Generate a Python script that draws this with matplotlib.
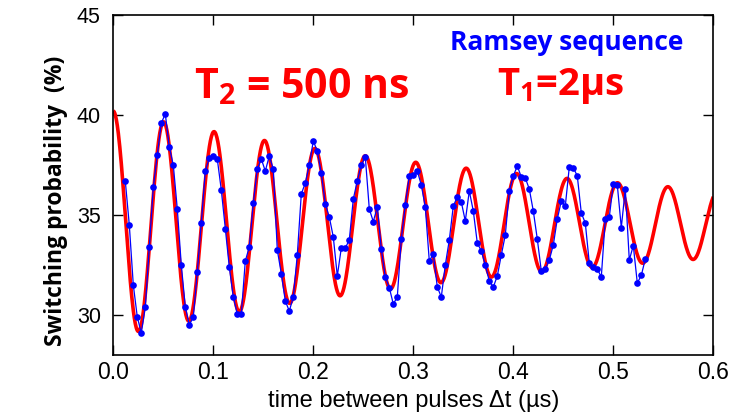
import matplotlib
matplotlib.use("Agg")
import matplotlib.pyplot as plt
import numpy as np

t_us = [0.012, 0.016, 0.020, 0.024, 0.028, 0.032, 0.036, 0.040, 0.044, 0.048,
        0.052, 0.056, 0.060, 0.064, 0.068, 0.072, 0.076, 0.080, 0.084, 0.088,
        0.092, 0.096, 0.100, 0.104, 0.108, 0.112, 0.116, 0.120, 0.124, 0.128,
        0.132, 0.136, 0.140, 0.144, 0.148, 0.152, 0.156, 0.160, 0.164, 0.168,
        0.172, 0.176, 0.180, 0.184, 0.188, 0.192, 0.196, 0.200, 0.204, 0.208,
        0.212, 0.216, 0.220, 0.224, 0.228, 0.232, 0.236, 0.240, 0.244, 0.248,
        0.252, 0.256, 0.260, 0.264, 0.268, 0.272, 0.276, 0.280, 0.284, 0.288,
        0.292, 0.296, 0.300, 0.304, 0.308, 0.312, 0.316, 0.320, 0.324, 0.328,
        0.332, 0.336, 0.340, 0.344, 0.348, 0.352, 0.356, 0.360, 0.364, 0.368,
        0.372, 0.376, 0.380, 0.384, 0.388, 0.392, 0.396, 0.400, 0.404, 0.408,
        0.412, 0.416, 0.420, 0.424, 0.428, 0.432, 0.436, 0.440, 0.444, 0.448,
        0.452, 0.456, 0.460, 0.464, 0.468, 0.472, 0.476, 0.480, 0.484, 0.488,
        0.492, 0.496, 0.500, 0.504, 0.508, 0.512, 0.516, 0.520, 0.524, 0.528,
        0.532]
p_pct = [36.69, 34.5, 31.5, 29.9, 29.1, 30.4, 33.4, 36.4, 38.0, 39.6,
         40.05, 38.4, 37.5, 35.3, 32.5, 30.4, 29.5, 29.9, 32.15, 34.6,
         37.2, 37.85, 37.97, 37.8, 36.25, 34.3, 32.4, 30.9, 30.05, 30.05,
         32.7, 33.4, 35.6, 37.3, 37.8, 37.2, 37.95, 37.3, 33.25, 32.07,
         30.7, 30.2, 30.9, 33.0, 36.05, 36.6, 37.5, 38.7, 38.2, 37.1,
         35.55, 34.9, 33.9, 31.95, 33.35, 33.35, 33.75, 35.8, 36.7, 37.5,
         37.9, 35.3, 34.67, 35.4, 33.3, 31.9, 31.37, 30.55, 30.9, 33.8,
         35.5, 36.95, 37.0, 37.2, 36.5, 35.4, 32.7, 33.05, 31.4, 30.9,
         32.5, 33.75, 35.45, 35.9, 35.65, 34.7, 36.2, 35.2, 33.6, 33.2,
         32.5, 31.7, 31.4, 31.95, 33.0, 34.0, 36.2, 36.95, 37.45, 36.9,
         36.85, 36.3, 35.2, 33.8, 32.2, 32.3, 32.75, 33.5, 34.8, 35.7,
         35.45, 37.4, 37.37, 36.95, 35.1, 34.6, 32.6, 32.4, 32.3, 31.9,
         34.8, 34.9, 36.57, 36.5, 34.37, 36.3, 32.75, 33.47, 31.6, 31.98,
         32.8]

# ---- fitted Ramsey curve parameters (T2 = 500 ns as labelled) ----
fit_offset = 34.55    # %
fit_amp = 5.65        # %
fit_T2 = 0.5          # us
fit_freq = 19.83      # MHz
t_fit_max = 0.6       # us

x_ticks = [0.0, 0.1, 0.2, 0.3, 0.4, 0.5, 0.6]
x_ticklabels = ["0.0", "0.1", "0.2", "0.3", "0.4", "0.5", "0.6"]
y_ticks = [30, 35, 40, 45]

plt.rcParams["mathtext.default"] = "regular"

fig = plt.figure(figsize=(7.41, 4.18), dpi=100)
ax = fig.add_axes([113.3 / 741, 1 - 355 / 418, (713.3 - 113.3) / 741, (355 - 15) / 418])

t_fit = np.linspace(0, t_fit_max, 1200)
y_fit = fit_offset + fit_amp * np.exp(-t_fit / fit_T2) * np.cos(2 * np.pi * fit_freq * t_fit)
ax.plot(t_fit, y_fit, color="#ff0000", lw=2.6, zorder=2, solid_capstyle="butt")
ax.plot(t_us, p_pct, color="#0000ff", lw=0.9, marker="o", ms=4.8,
        markeredgewidth=0, zorder=3)

ax.set_xlim(0, 0.6)
ax.set_ylim(28, 45)
ax.set_xticks(x_ticks)
ax.set_xticklabels(x_ticklabels)
ax.set_yticks(y_ticks)

tick_font = ["Liberation Sans", "DejaVu Sans"]
for lab in ax.get_xticklabels():
    lab.set_family(tick_font)
    lab.set_fontsize(16.5)
for lab in ax.get_yticklabels():
    lab.set_family(tick_font)
    lab.set_fontsize(15.5)
ax.tick_params(direction="in", length=7, width=1.0, top=True, right=True,
               colors="black")
ax.tick_params(axis="x", pad=4)
ax.tick_params(axis="y", pad=9)
for s in ax.spines.values():
    s.set_linewidth(1.2)
    s.set_color("black")

ax.set_xlabel("time between pulses \u0394t (\u00b5s)", family=tick_font,
              fontsize=17, labelpad=5)
ax.set_ylabel("Switching probability  (%)",
              family=["Open Sans", "DejaVu Sans"], fontweight="bold",
              fontsize=16.5)
ax.yaxis.set_label_coords(-0.0755, 0.453)

bold_font = ["Open Sans", "DejaVu Sans"]
ax.text(0.188, 40.85, "T$_2$ = 500 ns", color="#ff0000", fontsize=29.5,
        fontweight="bold", family=bold_font, ha="center", va="baseline")
ax.text(0.447, 41.0, "T$_1$=2\u00b5s", color="#ff0000", fontsize=27.5,
        fontweight="bold", family=bold_font, ha="center", va="baseline")
ax.text(0.453, 43.25, "Ramsey sequence", color="#0000ff", fontsize=19,
        fontweight="bold", family=bold_font, ha="center", va="baseline")

fig.savefig("out.png", dpi=100)
